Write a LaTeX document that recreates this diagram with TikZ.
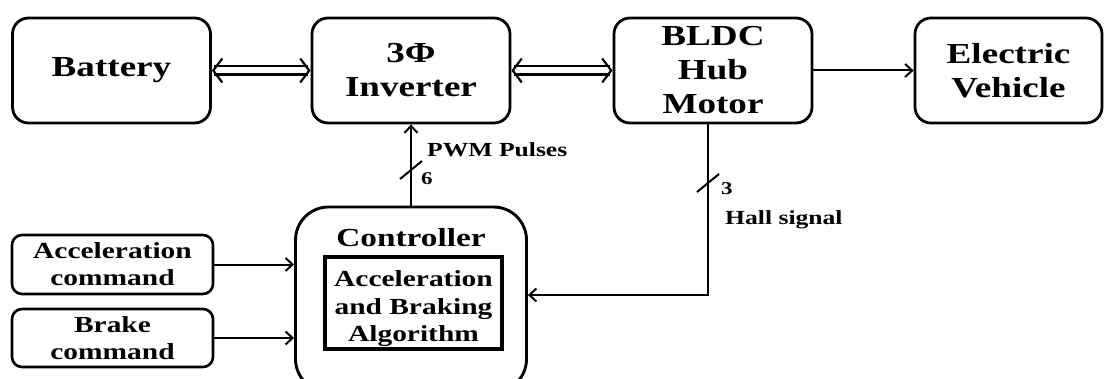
\documentclass[tikz,border=0pt]{standalone}
\usepackage{fontspec}
\setmainfont{Liberation Serif}[FakeStretch=1.28]
\usetikzlibrary{positioning,arrows.meta,calc}

\begin{document}
\begin{tikzpicture}[x=1pt, y=-1pt, >={Straight Barb[length=7pt,width=13pt]}]
\tikzset{
  bigbox/.style={
    draw,
    line width=2.8pt,
    rounded corners=16pt,
    minimum width=198pt,
    minimum height=105pt,
    inner sep=0pt,
    align=center,
    font=\bfseries\fontsize{29}{34}\selectfont,
  },
  cmdbox/.style={
    draw,
    line width=2.6pt,
    rounded corners=10pt,
    minimum width=201pt,
    minimum height=59pt,
    inner sep=0pt,
    align=center,
    font=\bfseries\fontsize{23}{27}\selectfont,
  },
  ctrlbox/.style={
    draw,
    line width=2.9pt,
    rounded corners=33pt,
    minimum width=231pt,
    minimum height=185pt,
  },
  algobox/.style={
    draw,
    line width=3.2pt,
    minimum width=177pt,
    minimum height=92pt,
  },
  algotext/.style={align=center, inner sep=0pt, font=\bfseries\fontsize{23}{27.5}\selectfont},
  lbl/.style={inner sep=0pt, font=\bfseries\fontsize{20}{22}\selectfont},
  num/.style={inner sep=0pt, font=\bfseries\fontsize{18}{20}\selectfont},
  sig/.style={line width=2pt},
  tick/.style={line width=2pt},
  bus/.style={{Straight Barb[length=9pt,width=24pt]}-{Straight Barb[length=9pt,width=24pt]}, double, double distance=6pt, line width=2.2pt},
}

\useasboundingbox (0,0) rectangle (1110,379);
\clip (0,0) rectangle (1110,379);

% top row
\node[bigbox] (battery) at (111.5,70.5) {Battery};
\node[bigbox] (inverter) at (411,70.5) {3Φ\\Inverter};
\node[bigbox] (motor) at (713,70.5) {BLDC\\Hub\\Motor};
\node[bigbox, minimum width=187pt] (vehicle) at (1008.5,70.5) {Electric\\Vehicle};

% commands and controller
\node[cmdbox] (acccmd) at (112.5,264.5) {Acceleration\\command};
\node[cmdbox, minimum height=58pt] (brakecmd) at (112.5,338) {Brake\\command};
\node[ctrlbox] (controller) at (411,299.5) {};
\node[anchor=base, inner sep=0pt, font=\bfseries\fontsize{26}{30}\selectfont] (ctrltitle) at (411,247) {Controller};
\node[algobox] (algo) at (413.5,303) {};
\node[algotext, yshift=-6pt] (algotxt) at (algo.center) {Acceleration\\and Braking\\Algorithm};

\draw[bus] (battery) -- (inverter);
\draw[bus] (inverter) -- (motor);
\draw[sig,->] (motor) -- (vehicle);

\draw[sig,->] (acccmd) -- (acccmd -| controller.west);
\draw[sig,->] (brakecmd) -- (brakecmd -| controller.west);

% pwm bus
\coordinate (pwmtick) at (411,170);
\draw[sig,->] (controller.north) -- (inverter.south);
\draw[tick] ($(pwmtick)+(-11,9)$) -- ($(pwmtick)+(11,-9)$);
\node[lbl, anchor=base west] (pwmlbl) at (427,157) {PWM Pulses};
\node[num, anchor=base west] (pwmnum) at (421,185) {6};

% hall feedback
\coordinate (hallturn) at (708,295);
\coordinate (halltick) at (708,183);
\draw[sig,->] (motor.south -| hallturn) -- (hallturn) -- (hallturn -| controller.east);
\draw[tick] ($(halltick)+(-11,9)$) -- ($(halltick)+(11,-9)$);
\node[num, anchor=base west] (hallnum) at (721,195) {3};
\node[lbl, anchor=base west] (halllbl) at (725,225) {Hall signal};

\end{tikzpicture}
\end{document}
